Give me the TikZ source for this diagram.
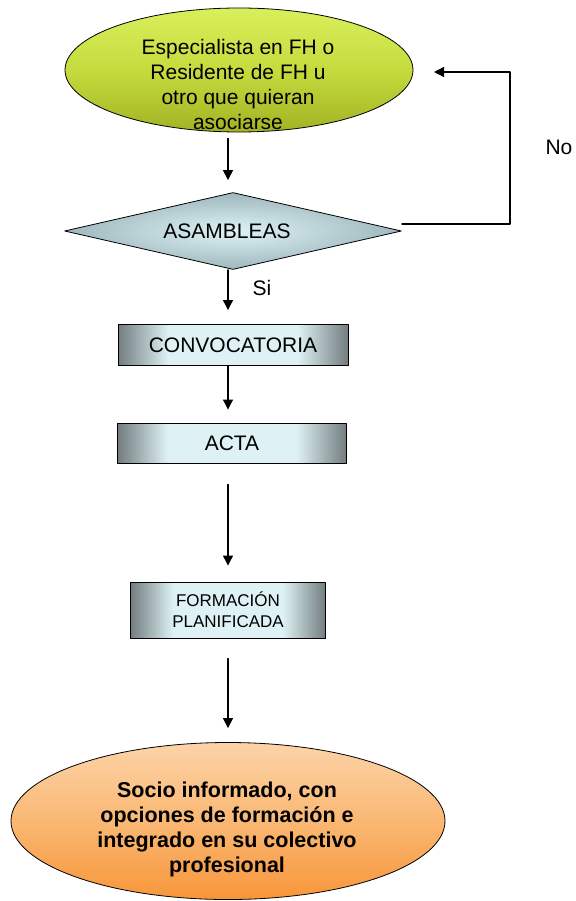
\documentclass[tikz,border=0pt]{standalone}
\usepackage{fontspec}
\setmainfont{Liberation Sans}
\usetikzlibrary{shapes.geometric,arrows.meta,positioning}
\definecolor{dbeeqa}{rgb}{0.85,0.94,0.36}
\definecolor{cbdfqe}{rgb}{0.77,0.86,0.24}
\definecolor{aabbqc}{rgb}{0.64,0.70,0.14}
\definecolor{ddfffe}{rgb}{0.87,0.95,0.96}
\definecolor{aacccd}{rgb}{0.62,0.72,0.74}
\definecolor{gggwwx}{rgb}{0.45,0.49,0.50}
\definecolor{ffddbb}{rgb}{0.99,0.83,0.66}
\definecolor{ffbbww}{rgb}{0.98,0.72,0.45}
\definecolor{ffaaqq}{rgb}{0.97,0.59,0.23}
\pgfdeclarehorizontalshading{metal}{100bp}{color(0bp)=(gggwwx); color(25bp)=(gggwwx);
  color(36bp)=(ddfffe); color(64bp)=(ddfffe); color(75bp)=(gggwwx); color(100bp)=(gggwwx)}

\begin{document}
\begin{tikzpicture}[x=1pt,y=-1pt,line cap=round,line join=round,
  texto/.style={align=center,font=\fontsize{21}{25}\selectfont},
  caja/.style={draw,line width=0.9pt,rectangle,inner sep=0pt,shading=metal,texto},
  flecha/.style={line width=1.2pt,-{Triangle[width=10pt,length=10pt]}}]
  \useasboundingbox (0,0) rectangle (575,901);
  % nodos
  \node[draw,line width=0.8pt,ellipse,minimum width=348,minimum height=124,
    top color=dbeeqa,bottom color=aabbqc,middle color=cbdfqe] (asoc) at (239,70) {};
  \node[texto] (asoc txt) at (238,84) {Especialista en FH o\\Residente de FH u\\otro que quieran\\asociarse};
  \node[draw,line width=0.8pt,diamond,aspect=4.4,inner sep=0pt,minimum width=337,
    minimum height=77,inner color=ddfffe,outer color=aacccd] (asamb) at (233,231) {};
  \node[texto] (asamb txt) at (227,231) {ASAMBLEAS};
  \node[caja,minimum width=230,minimum height=41] (conv) at (233,345) {CONVOCATORIA};
  \node[caja,minimum width=229,minimum height=40] (acta) at (232,443) {ACTA};
  \node[caja,minimum width=195,minimum height=56,font=\fontsize{17}{21}\selectfont] (form) at (228,610) {FORMACIÓN\\PLANIFICADA};
  \node[draw,line width=0.8pt,ellipse,minimum width=434,minimum height=157,
    top color=ffddbb,bottom color=ffaaqq,middle color=ffbbww] (socio) at (228,821) {};
  \node[texto,font=\fontsize{21.5}{25}\selectfont\bfseries] (socio txt) at (227,829)
    {Socio informado, con\\opciones de formación e\\integrado en su colectivo\\profesional};
  \node[texto] (si) at (262,288) {Si};
  \node[texto] (no) at (559,147) {No};
  \coordinate (eje) at (228,0);
  \coordinate (vuelta) at (510,72);
  \coordinate (punta) at (434,72);
  % conectores
  \draw[flecha,shorten <=6pt,shorten >=12pt] (asoc.south -| eje) -- (asamb.north -| eje);
  \draw[flecha,shorten >=14pt] (asamb.south -| eje) -- (conv.north -| eje);
  \draw[flecha,shorten >=13pt] (conv.south -| eje) -- (acta.north -| eje);
  \draw[flecha,shorten <=21pt,shorten >=16pt] (acta.south -| eje) -- (form.north -| eje);
  \draw[flecha,shorten <=20pt,shorten >=14pt] (form.south -| eje) -- (socio.north -| eje);
  \draw[flecha] ([yshift=7pt]asamb.east) -| (vuelta) -- (punta);
\end{tikzpicture}
\end{document}
